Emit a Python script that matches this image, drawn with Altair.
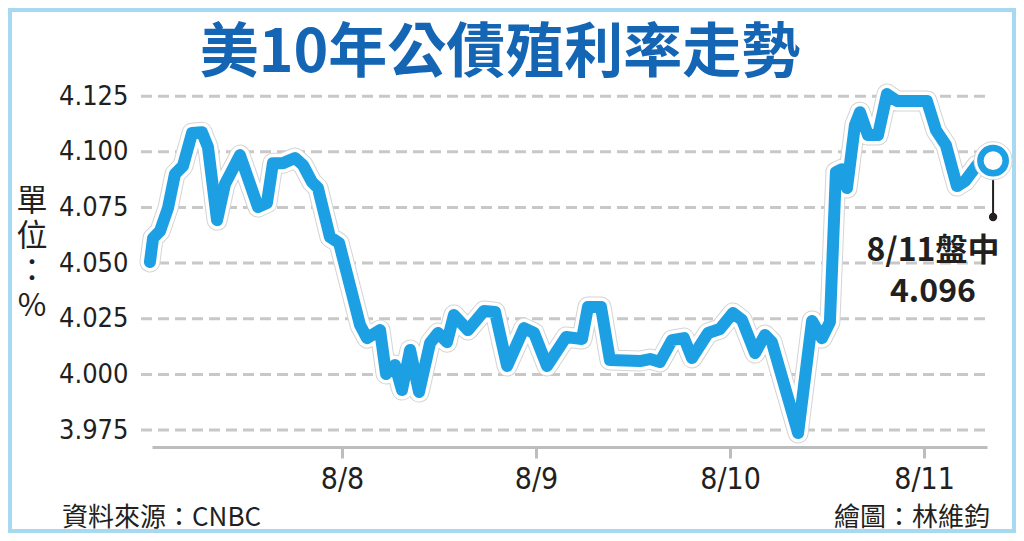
import altair as alt
import pandas as pd

# ---------------- texts ----------------
title_text = "美10年公債殖利率走勢"
unit_text = ["單", "位", "：", "%"]
source_text = "資料來源：CNBC"
credit_text = "繪圖：林維鈞"
note_lines = ["8/11盤中", "4.096"]

# ---------------- data (day of August, yield %) ----------------
days = [7.010, 7.026, 7.062, 7.103, 7.139, 7.180, 7.227, 7.278, 7.309, 7.356,
        7.397, 7.474, 7.567, 7.613, 7.644, 7.696, 7.758, 7.799, 7.845, 7.876,
        7.938, 7.985, 8.093, 8.129, 8.196, 8.227, 8.273, 8.309, 8.351, 8.397,
        8.454, 8.495, 8.541, 8.577, 8.649, 8.732, 8.789, 8.851, 8.938, 8.990,
        9.057, 9.155, 9.237, 9.268, 9.335, 9.381, 9.536, 9.588, 9.639, 9.701,
        9.763, 9.804, 9.887, 9.948, 10.015, 10.062, 10.129, 10.180, 10.216, 10.351,
        10.423, 10.474, 10.515, 10.546, 10.577, 10.603, 10.644, 10.670, 10.711, 10.763,
        10.809, 10.861, 11.015, 11.062, 11.113, 11.170, 11.211, 11.273, 11.356]
yields = [4.0505, 4.0612, 4.0644, 4.0747, 4.0900, 4.0936, 4.1084, 4.1088, 4.1021, 4.0693,
          4.0855, 4.0985, 4.0752, 4.0770, 4.0949, 4.0949, 4.0972, 4.0940, 4.0864, 4.0837,
          4.0617, 4.0590, 4.0222, 4.0163, 4.0199, 4.0002, 4.0042, 3.9930, 4.0110, 3.9921,
          4.0141, 4.0186, 4.0145, 4.0267, 4.0199, 4.0285, 4.0280, 4.0038, 4.0208, 4.0186,
          4.0038, 4.0168, 4.0159, 4.0303, 4.0303, 4.0065, 4.0060, 4.0069, 4.0056, 4.0154,
          4.0163, 4.0074, 4.0186, 4.0204, 4.0276, 4.0244, 4.0096, 4.0177, 4.0145, 3.9737,
          4.0240, 4.0163, 4.0235, 4.0909, 4.0922, 4.0837, 4.1120, 4.1178, 4.1075, 4.1075,
          4.1259, 4.1228, 4.1228, 4.1097, 4.1030, 4.0846, 4.0868, 4.0940, 4.0960]

x_ticks = [8, 9, 10, 11]
x_tick_labels = ["8/8", "8/9", "8/10", "8/11"]
y_ticks = [3.975, 4.000, 4.025, 4.050, 4.075, 4.100, 4.125]

x_domain = [7.0206, 11.3247]
y_domain = [3.9674, 4.13]

callout_end = 4.0707          # yield level where the callout dot sits
note_day = 11.046             # centre of the annotation text
note_levels = [4.0555, 4.0370]

# ---------------- style ----------------
W, H = 835, 362
BLUE = "#1ca0e3"
TITLE_BLUE = "#1565b5"
INK = "#231f20"
GRID = "#c8c8c8"
AXIS_GRAY = "#bdbdbd"
BORDER = "#a9d9f1"
CJK = "Noto Sans CJK TC"
NUM = "Liberation Sans Narrow, DejaVu Sans Condensed, Liberation Sans"

xs = alt.Scale(domain=x_domain, nice=False, zero=False)
ys = alt.Scale(domain=y_domain, nice=False, zero=False)

label_js = "[" + ",".join("'" + s + "'" for s in x_tick_labels) + "]"
x_axis = alt.Axis(values=x_ticks, labelExpr=label_js + "[datum.value - " + str(x_ticks[0]) + "]",
                  grid=False, domainColor=AXIS_GRAY, domainWidth=3, tickColor=AXIS_GRAY,
                  tickWidth=3, tickSize=11, labelFont=NUM, labelFontSize=30, labelColor=INK,
                  labelPadding=21, labelBaseline="middle", title=None)
y_axis = alt.Axis(values=y_ticks, format=".3f", grid=False, domain=False, ticks=False,
                  labelFont=NUM, labelFontSize=27, labelColor=INK, labelPadding=24,
                  labelBaseline="middle", title=None)


def X(field="x"):
    return alt.X(field + ":Q", scale=xs, axis=x_axis, title=None)


def Y(field="y"):
    return alt.Y(field + ":Q", scale=ys, axis=y_axis, title=None)


one = pd.DataFrame({"k": [0]})
line_df = pd.DataFrame({"x": days, "y": yields})
last_df = pd.DataFrame({"x": [days[-1]], "y": [yields[-1]], "y2": [callout_end]})
dot_df = pd.DataFrame({"x": [days[-1]], "y": [callout_end]})
note_df = pd.DataFrame({"x": [note_day] * 2, "y": note_levels, "t": note_lines})

border = alt.Chart(one).mark_rect(fillOpacity=0, stroke=BORDER, strokeWidth=4).encode(
    x=alt.value(-142), x2=alt.value(W + 27), y=alt.value(-75), y2=alt.value(H + 84))

grid = alt.Chart(pd.DataFrame({"y": y_ticks})).mark_rule(
    color=GRID, strokeWidth=3, strokeDash=[11, 6]).encode(
    y=Y(), x=alt.value(-11), x2=alt.value(W))

shadow = alt.Chart(line_df).mark_line(color="#d4d4d4", strokeWidth=21, strokeJoin="round",
                                      strokeCap="round").encode(x=X(), y=Y())
halo = alt.Chart(line_df).mark_line(color="white", strokeWidth=19, strokeJoin="round",
                                    strokeCap="round").encode(x=X(), y=Y())
line = alt.Chart(line_df).mark_line(color=BLUE, strokeWidth=12, strokeJoin="round",
                                    strokeCap="round").encode(x=X(), y=Y())

callout = alt.Chart(last_df).mark_rule(color=INK, strokeWidth=2).encode(
    x=X(), y=Y(), y2="y2:Q")
callout_dot = alt.Chart(dot_df).mark_point(filled=True, color=INK, size=70, opacity=1).encode(
    x=X(), y=Y())
end_halo = alt.Chart(last_df).mark_point(filled=True, color="white", size=1450, opacity=1,
                                         stroke="#d4d4d4", strokeWidth=1).encode(x=X(), y=Y())
end_ring = alt.Chart(last_df).mark_point(shape="circle", fill="white", fillOpacity=1,
                                         stroke=BLUE, strokeWidth=6.5, size=640, opacity=1).encode(
    x=X(), y=Y())

note = alt.Chart(note_df).mark_text(font=CJK, fontSize=32, fontWeight="bold", color=INK,
                                    align="center", baseline="middle").encode(
    x=X(), y=Y(), text="t:N")

title = alt.Chart(pd.DataFrame({"t": [title_text]})).mark_text(
    font=CJK, fontSize=59, fontWeight="bold", color=TITLE_BLUE, align="center",
    baseline="middle").encode(x=alt.value(348), y=alt.value(-31), text="t:N")

unit_layers = [
    alt.Chart(pd.DataFrame({"t": [ch]})).mark_text(
        font=CJK, fontSize=31, color=INK, align="center", baseline="middle").encode(
        x=alt.value(-120), y=alt.value(117 + 35 * i), text="t:N")
    for i, ch in enumerate(unit_text)
]

source = alt.Chart(pd.DataFrame({"t": [source_text]})).mark_text(
    font=CJK, fontSize=26, color=INK, align="left", baseline="middle").encode(
    x=alt.value(-90), y=alt.value(433), text="t:N")
credit = alt.Chart(pd.DataFrame({"t": [credit_text]})).mark_text(
    font=CJK, fontSize=26, color=INK, align="right", baseline="middle").encode(
    x=alt.value(838), y=alt.value(433), text="t:N")

chart = alt.layer(
    border, grid, shadow, halo, line, callout, callout_dot, end_halo, end_ring,
    note, title, *unit_layers, source, credit
).properties(
    width=W, height=H,
    padding={"left": 144, "top": 77, "right": 29, "bottom": 86},
    autosize=alt.AutoSizeParams(type="none"),
    background="white",
).configure_view(strokeOpacity=0)

chart.save("out.html", embed_options={"renderer": "svg", "actions": False})
